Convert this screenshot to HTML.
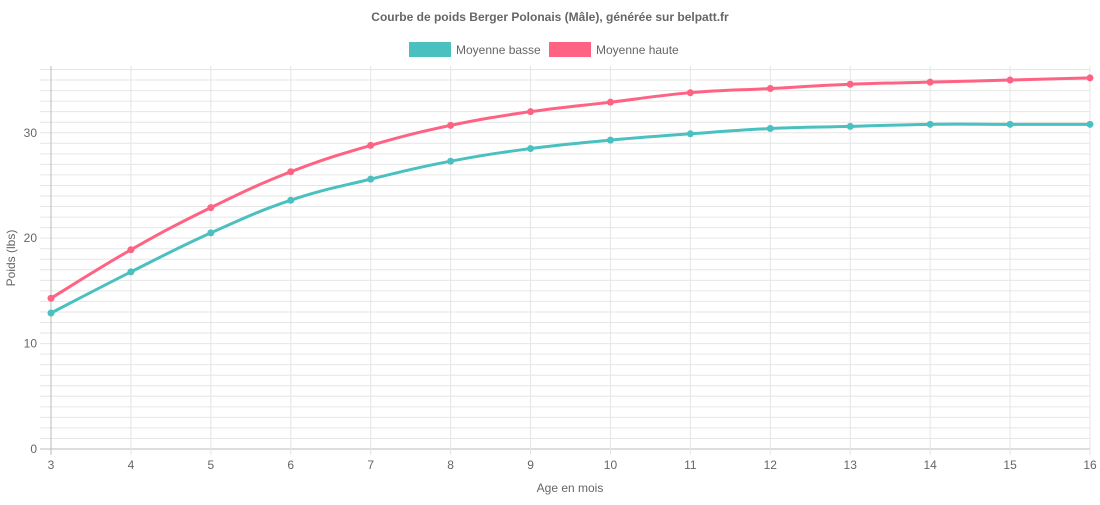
<!DOCTYPE html>
<html><head><meta charset="utf-8"><style>
body{margin:0;background:#fff;font-family:"Liberation Sans",sans-serif}
svg text{font-family:"Liberation Sans",sans-serif}
</style></head><body>
<svg id="c" width="1100" height="500" xmlns="http://www.w3.org/2000/svg">
<text x="550" y="21" text-anchor="middle" font-size="12" font-weight="bold" fill="#666">Courbe de poids Berger Polonais (Mâle), générée sur belpatt.fr</text>
<g><rect x="409" y="42" width="42" height="15" fill="#4bc0c0"/><text x="456" y="54" font-size="12" fill="#666">Moyenne basse</text></g>
<g><rect x="549" y="42" width="42" height="15" fill="#ff6384"/><text x="596" y="54" font-size="12" fill="#666">Moyenne haute</text></g>
<text transform="translate(15,258) rotate(-90)" text-anchor="middle" font-size="12" fill="#666">Poids (lbs)</text>
<text x="570" y="492" text-anchor="middle" font-size="12" fill="#666">Age en mois</text>
<g id="grid"></g><g id="series"></g>
</svg>
<script>
const months=[3,4,5,6,7,8,9,10,11,12,13,14,15,16];
const basse=[12.9,16.8,20.5,23.6,25.6,27.3,28.5,29.3,29.9,30.4,30.6,30.8,30.8,30.8];
const haute=[14.3,18.9,22.9,26.3,28.8,30.7,32.0,32.9,33.8,34.2,34.6,34.8,35.0,35.2];
const yTicks=[0,10,20,30];
const NS="http://www.w3.org/2000/svg";
const X0=51,X1=1090,Y0=449,YT=69.5,YMAX=36,PT=66;
const xs=m=>X0+(m-3)*(X1-X0)/13;
const ys=v=>Y0-v*(Y0-YT)/YMAX;
const grid=document.getElementById('grid'),ser=document.getElementById('series');
function mk(t,a,p){const e=document.createElementNS(NS,t);for(const k in a)e.setAttribute(k,a[k]);p.appendChild(e);return e;}
for(let v=0;v<=YMAX;v++){
 const l=mk('line',{x1:40,x2:X1,y1:ys(v),y2:ys(v),stroke:v===0?'#bbb':'#e6e6e6','stroke-width':1},grid);
 
 
}
yTicks.forEach(v=>{const t=mk('text',{x:37,y:ys(v)+4,'text-anchor':'end','font-size':12,fill:'#666'},grid);t.textContent=v;
 
 });
months.forEach(m=>{const l=mk('line',{x1:xs(m),x2:xs(m),y1:PT,y2:Y0+6,stroke:m===3?'#bbb':'#e6e6e6'},grid);
 
 
 const t=mk('text',{x:xs(m),y:Y0+20,'text-anchor':'middle','font-size':12,fill:'#666'},grid);t.textContent=m;
 
 });
function path(vals){const p=vals.map((v,i)=>[xs(months[i]),ys(v)]);let d=`M${p[0][0]},${p[0][1]}`;
 for(let i=0;i<p.length-1;i++){const p0=p[Math.max(0,i-1)],p1=p[i],p2=p[i+1],p3=p[Math.min(p.length-1,i+2)],k=0.4/2;
 d+=` C${p1[0]+(p2[0]-p0[0])*k},${p1[1]+(p2[1]-p0[1])*k} ${p2[0]-(p3[0]-p1[0])*k},${p2[1]-(p3[1]-p1[1])*k} ${p2[0]},${p2[1]}`;}return d;}
[[basse,'#4bc0c0','basse'],[haute,'#ff6384','haute']].forEach(([vals,c,n])=>{
 const p=mk('path',{d:path(vals),fill:'none',stroke:c,'stroke-width':3},ser);
 
 
 vals.forEach((v,i)=>{const pt=mk('circle',{cx:xs(months[i]),cy:ys(v),r:3.5,fill:c},ser);
 
 });
});
</script>
</body></html>
